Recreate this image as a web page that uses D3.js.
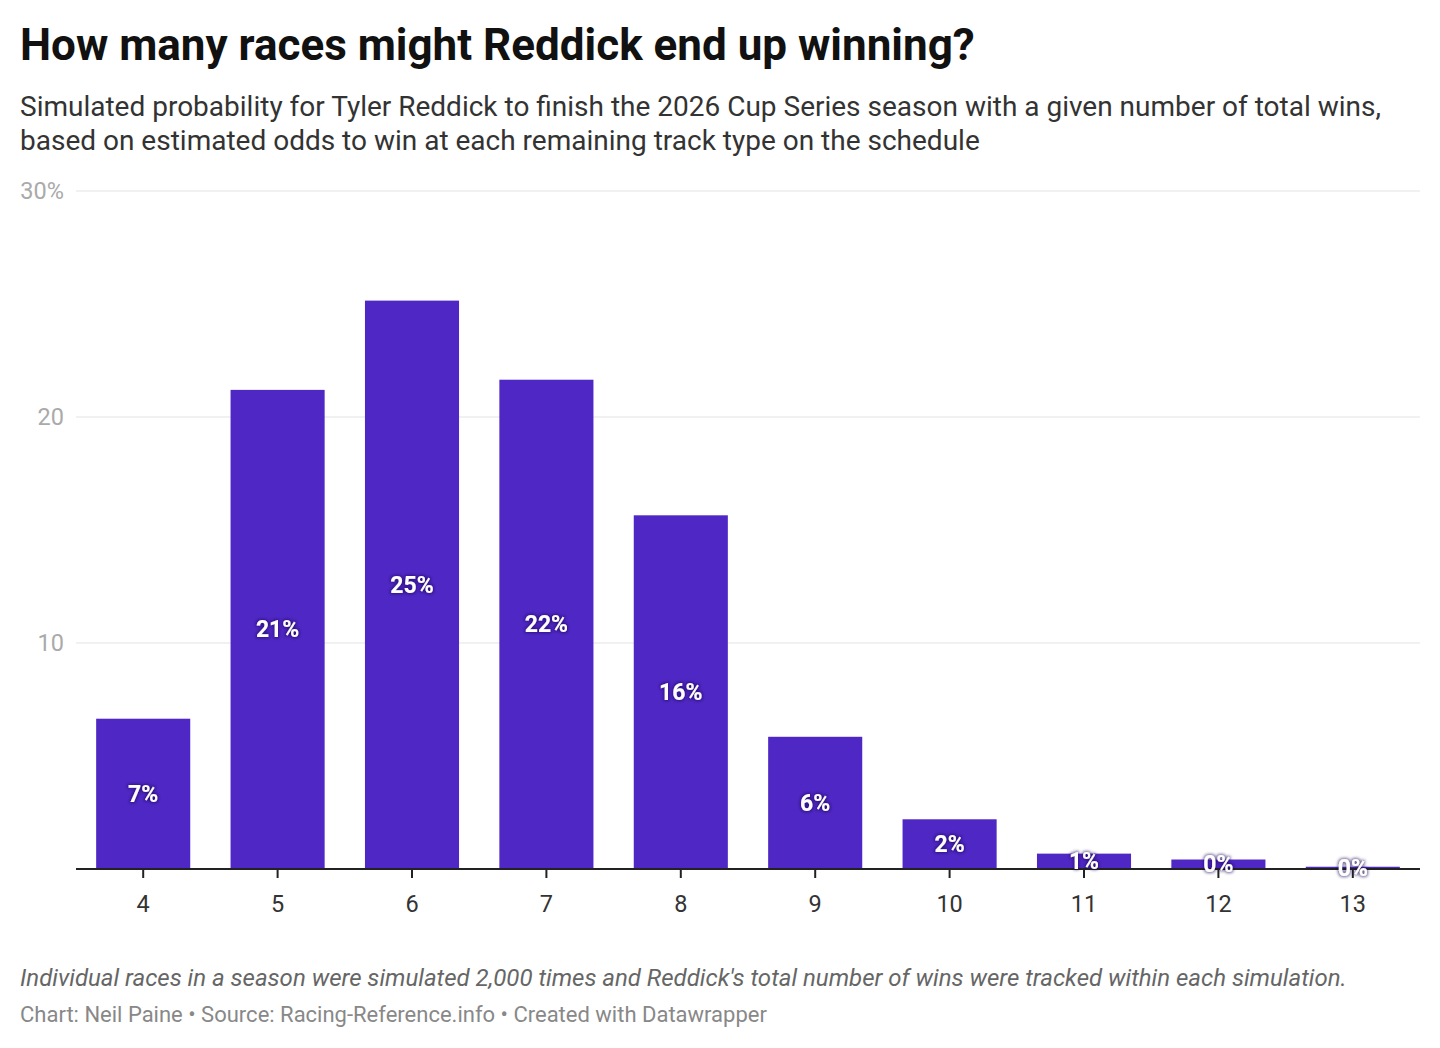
<!DOCTYPE html>
<html lang="en">
<head>
    <meta charset="UTF-8">
    <script src="https://d3js.org/d3.v7.min.js"></script>
    <title>Reddick wins</title>
    <style>
        body {
            margin: 0;
            background: #fff;
            font-family: Roboto, "Noto Sans", sans-serif;
        }
    </style>
</head>
<body>
    <svg id="chart" width="1440" height="1048"></svg>

    <script>
        // total wins and simulated probability (%)
        const wins = ["4", "5", "6", "7", "8", "9", "10", "11", "12", "13"];
        const prob = [6.65, 21.2, 25.15, 21.65, 15.65, 5.85, 2.2, 0.68, 0.42, 0.1];
        const labels = ["7%", "21%", "25%", "22%", "16%", "6%", "2%", "1%", "0%", "0%"];
        const yTicks = [0, 10, 20, 30];

        const svg = d3.select("#chart");

        const plotLeft = 76, plotRight = 1420, plotTop = 191, plotBottom = 869;

        const x = d3.scaleBand()
            .domain(wins)
            .range([plotLeft, plotRight])
            .paddingInner(0.3)
            .paddingOuter(0.15);

        const y = d3.scaleLinear()
            .domain([0, 30])
            .range([plotBottom, plotTop]);

        // soft dark halo behind the value labels
        const f = svg.append("defs").append("filter")
            .attr("id", "halo").attr("x", "-20%").attr("y", "-40%")
            .attr("width", "140%").attr("height", "180%");
        f.append("feMorphology").attr("in", "SourceAlpha").attr("operator", "dilate")
            .attr("radius", 1.2).attr("result", "d");
        f.append("feGaussianBlur").attr("in", "d").attr("stdDeviation", 1.6).attr("result", "b");
        f.append("feFlood").attr("flood-color", "#1e0b5a").attr("flood-opacity", 0.6);
        f.append("feComposite").attr("in2", "b").attr("operator", "in").attr("result", "s");
        const m = f.append("feMerge");
        m.append("feMergeNode").attr("in", "s");
        m.append("feMergeNode").attr("in", "SourceGraphic");

        // header
        svg.append("text")
            .attr("x", 20).attr("y", 60)
            .attr("font-size", 44).attr("font-weight", 700).attr("fill", "#111")
            .text("How many races might Reddick end up winning?");

        const sub = [
            "Simulated probability for Tyler Reddick to finish the 2026 Cup Series season with a given number of total wins,",
            "based on estimated odds to win at each remaining track type on the schedule"
        ];
        svg.selectAll("text.sub")
            .data(sub)
            .join("text")
            .attr("class", "sub")
            .attr("x", 20)
            .attr("y", (d, i) => 116 + i * 34)
            .attr("font-size", 28).attr("fill", "#333")
            .text(d => d);

        // gridlines
        const grid = svg.append("g");
        grid.selectAll("line")
            .data(yTicks.filter(d => d > 0))
            .join("line")
            .attr("x1", plotLeft).attr("x2", plotRight)
            .attr("y1", d => y(d)).attr("y2", d => y(d))
            .attr("stroke", "#e3e3e3").attr("stroke-width", 1);

        grid.selectAll("text")
            .data(yTicks.filter(d => d > 0))
            .join("text")
            .attr("x", 64)
            .attr("y", d => y(d))
            .attr("dy", "0.35em")
            .attr("text-anchor", "end")
            .attr("font-size", 23.5).attr("fill", "#aaa")
            .text(d => d === 30 ? d + "%" : d);

        // bars
        svg.append("g")
            .selectAll("rect")
            .data(prob)
            .join("rect")
            .attr("x", (d, i) => x(wins[i]))
            .attr("y", d => y(d))
            .attr("width", x.bandwidth())
            .attr("height", d => y(0) - y(d))
            .attr("fill", "#4f27c4");

        // x axis
        const xAxis = svg.append("g")
            .attr("transform", `translate(0,${plotBottom})`)
            .call(d3.axisBottom(x).tickSize(9).tickPadding(17).tickSizeOuter(0));
        xAxis.select(".domain")
            .attr("d", `M${plotLeft},0H${plotRight}`)
            .attr("stroke", "#222").attr("stroke-width", 2);
        xAxis.selectAll(".tick line").attr("stroke", "#222").attr("stroke-width", 2);
        xAxis.selectAll(".tick text")
            .attr("font-family", "Roboto, sans-serif")
            .attr("font-size", 23.5).attr("fill", "#333");

        // value labels
        svg.append("g")
            .attr("filter", "url(#halo)")
            .selectAll("text")
            .data(prob)
            .join("text")
            .attr("x", (d, i) => x(wins[i]) + x.bandwidth() / 2)
            .attr("y", d => (y(d) + y(0)) / 2)
            .attr("dy", "0.35em")
            .attr("text-anchor", "middle")
            .attr("font-size", 23).attr("font-weight", 700)
            .attr("fill", "#fff")
            .text((d, i) => labels[i]);

        // footer
        svg.append("text")
            .attr("x", 20).attr("y", 986)
            .attr("font-size", 24).attr("font-style", "italic").attr("fill", "#666")
            .text("Individual races in a season were simulated 2,000 times and Reddick's total number of wins were tracked within each simulation.");

        svg.append("text")
            .attr("x", 20).attr("y", 1022)
            .attr("font-size", 22).attr("fill", "#888")
            .text("Chart: Neil Paine \u2022 Source: Racing-Reference.info \u2022 Created with Datawrapper");
    </script>
</body>
</html>
